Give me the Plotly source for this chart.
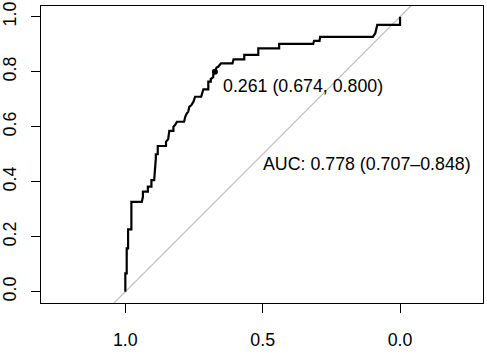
import plotly.graph_objects as go

# ROC curve vertices (specificity, sensitivity)
specificity = [1.000, 1.000, 0.995, 0.995, 0.990, 0.990, 0.978, 0.978, 0.940, 0.936,
               0.936, 0.918, 0.918, 0.905, 0.905, 0.895, 0.889, 0.889, 0.882, 0.882,
               0.852, 0.852, 0.844, 0.840, 0.825, 0.825, 0.819, 0.812, 0.786, 0.782,
               0.776, 0.771, 0.767, 0.760, 0.752, 0.749, 0.746, 0.724, 0.720, 0.716,
               0.698, 0.698, 0.689, 0.689, 0.680, 0.680, 0.674,
               0.668, 0.662, 0.652, 0.610, 0.606, 0.567, 0.567, 0.516, 0.516,
               0.440, 0.440, 0.316, 0.313, 0.293, 0.291, 0.099, 0.094, 0.090,
               0.083, 0.000, 0.000]
sensitivity = [0.000, 0.067, 0.067, 0.158, 0.158, 0.227, 0.227, 0.327, 0.327, 0.345,
               0.364, 0.364, 0.382, 0.382, 0.406, 0.406, 0.485, 0.500, 0.500, 0.530,
               0.530, 0.545, 0.555, 0.585, 0.585, 0.600, 0.606, 0.618, 0.618, 0.636,
               0.649, 0.655, 0.673, 0.678, 0.691, 0.700, 0.709, 0.709, 0.727, 0.736,
               0.736, 0.764, 0.764, 0.773, 0.780, 0.790, 0.800,
               0.815, 0.818, 0.830, 0.830, 0.845, 0.845, 0.861, 0.861, 0.885,
               0.885, 0.901, 0.901, 0.912, 0.912, 0.927, 0.927, 0.935, 0.940,
               0.970, 0.970, 1.000]

best_threshold = 0.261
best_spec = 0.674
best_sens = 0.800
auc_text = "AUC: 0.778 (0.707\u20130.848)"
thr_text = "0.261 (0.674, 0.800)"

x_ticks = [1.0, 0.5, 0.0]
x_tick_labels = ["1.0", "0.5", "0.0"]
y_ticks = [0.0, 0.2, 0.4, 0.6, 0.8, 1.0]
y_tick_labels = ["0.0", "0.2", "0.4", "0.6", "0.8", "1.0"]

x_range = [1.307, -0.302]
y_range = [-0.041, 1.039]

FONT = "Liberation Sans, Arial, sans-serif"
FS = 17.8

fig = go.Figure()

# diagonal reference line (sens = 1 - spec), spanning the plot
diag_x = [x_range[0] + 0.1, x_range[1] - 0.1]
fig.add_trace(go.Scatter(x=diag_x, y=[1 - v for v in diag_x], mode="lines",
                         line=dict(color="#bebebe", width=1.2), hoverinfo="skip"))

fig.add_trace(go.Scatter(x=specificity, y=sensitivity, mode="lines",
                         line=dict(color="black", width=2.2), hoverinfo="skip"))

fig.add_trace(go.Scatter(x=[best_spec], y=[best_sens], mode="markers",
                         marker=dict(color="black", size=6), hoverinfo="skip"))

fig.add_annotation(x=best_spec, y=best_sens, text=thr_text, showarrow=False,
                   xanchor="left", yanchor="top", xshift=6, yshift=-2,
                   font=dict(family=FONT, size=FS, color="black"))
fig.add_annotation(x=0.5, y=0.465, text=auc_text, showarrow=False,
                   xanchor="left", yanchor="middle", xshift=-2,
                   font=dict(family=FONT, size=FS, color="black"))

fig.update_layout(
    width=487, height=363,
    margin=dict(l=41, r=4, t=6, b=60),
    paper_bgcolor="white", plot_bgcolor="white",
    showlegend=False,
    font=dict(family=FONT, size=FS, color="black"),
)
fig.update_xaxes(range=x_range, tickvals=x_ticks, ticktext=x_tick_labels,
                 showgrid=False, zeroline=False, showline=True, linecolor="black",
                 linewidth=1, mirror=True, ticks="outside", ticklen=9,
                 tickcolor="black", tickwidth=1, ticklabelstandoff=12,
                 automargin=False)
fig.update_yaxes(range=y_range, tickvals=y_ticks, ticktext=y_tick_labels,
                 showgrid=False, zeroline=False, showline=True, linecolor="black",
                 linewidth=1, mirror=True, ticks="outside", ticklen=9,
                 tickcolor="black", tickwidth=1, tickangle=-90, ticklabelstandoff=8,
                 automargin=False)

fig.write_html("out.html")
